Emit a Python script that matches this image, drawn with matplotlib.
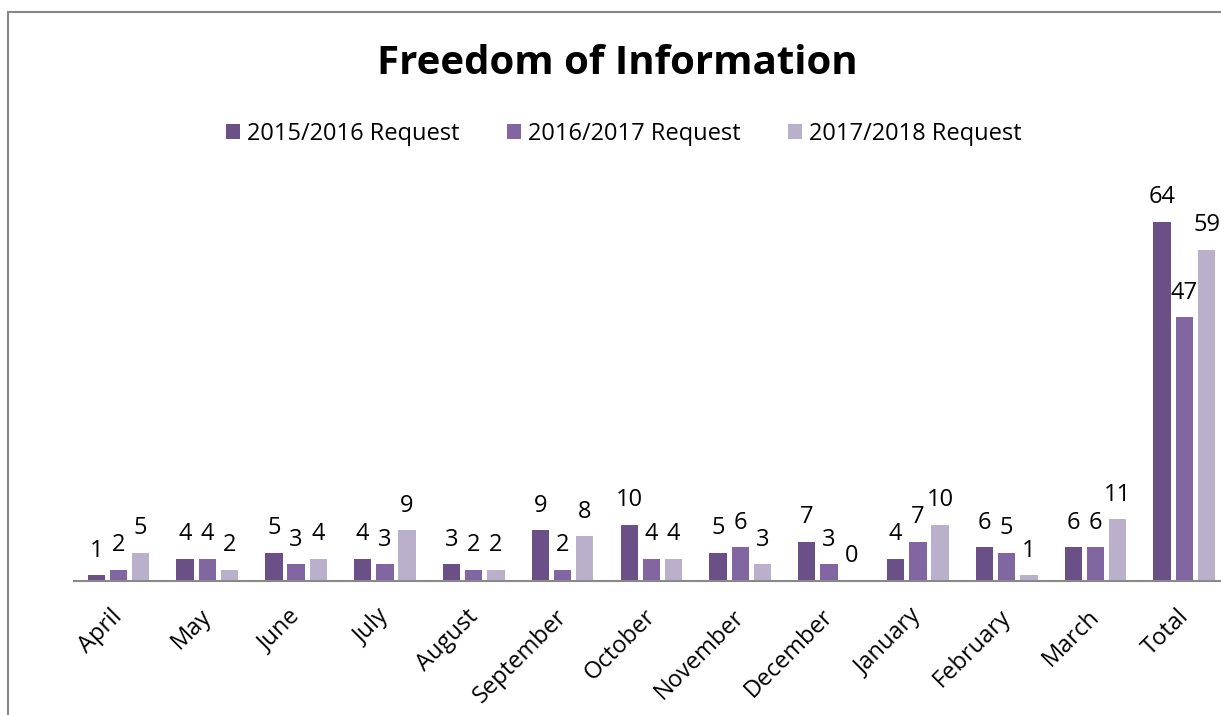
import numpy as np
import matplotlib.pyplot as plt
from matplotlib.patches import Rectangle
from matplotlib.transforms import ScaledTranslation

plt.rcParams['font.family'] = ['Open Sans', 'DejaVu Sans']

months = ['April', 'May', 'June', 'July', 'August', 'September', 'October',
          'November', 'December', 'January', 'February', 'March', 'Total']
req_1516 = [1, 4, 5, 4, 3, 9, 10, 5, 7, 4, 6, 6, 64]
req_1617 = [2, 4, 3, 3, 2, 2, 4, 6, 3, 7, 5, 6, 47]
req_1718 = [5, 2, 4, 9, 2, 8, 4, 3, 0, 10, 1, 11, 59]
series = ['2015/2016 Request', '2016/2017 Request', '2017/2018 Request']
colors = ['#6a5086', '#8166a2', '#bbb0cb']

fig = plt.figure(figsize=(12.21, 7.15), dpi=100)
# outer chart frame (cut off on right and bottom)
fig.patches.append(Rectangle((8 / 1221, -0.05), 1.2, (715 - 12) / 715 + 0.05,
                             transform=fig.transFigure, fill=False,
                             edgecolor='#888888', linewidth=1.5))

ax = fig.add_axes([74 / 1221, (715 - 581) / 715, (1221 - 74) / 1221 + 0.01, 393 / 715])

x = np.arange(len(months))
w = 0.195
step = 0.25
for i, (vals, name, c) in enumerate(zip([req_1516, req_1617, req_1718], series, colors)):
    bars = ax.bar(x + (i - 1) * step, vals, w, color=c, label=name)
    ax.bar_label(bars, padding=9, fontsize=17)

ax.set_xlim(-0.5, len(months) - 0.5 + 0.05)
ax.set_ylim(0, 70)
ax.set_yticks([])
ax.set_xticks(x)
ax.set_xticklabels(months, rotation=45, ha='right', rotation_mode='anchor', fontsize=17)
ax.tick_params(axis='x', length=0, pad=17)
shift = ScaledTranslation(-8 / 100, 0, fig.dpi_scale_trans)
for lab in ax.get_xticklabels():
    lab.set_transform(lab.get_transform() + shift)
for s in ['top', 'right', 'left']:
    ax.spines[s].set_visible(False)
ax.spines['bottom'].set_color('#888888')
ax.spines['bottom'].set_linewidth(1.5)

fig.text(617 / 1221, 1 - 64 / 715, 'Freedom of Information', ha='center', va='center',
         fontsize=29, fontweight='bold')
fig.legend(loc='center', bbox_to_anchor=(624 / 1221, 1 - 134 / 715), ncol=3,
           frameon=False, fontsize=17, handlelength=0.6, handleheight=0.6,
           handletextpad=0.3, columnspacing=2.0)

fig.savefig('out.png', dpi=100)
